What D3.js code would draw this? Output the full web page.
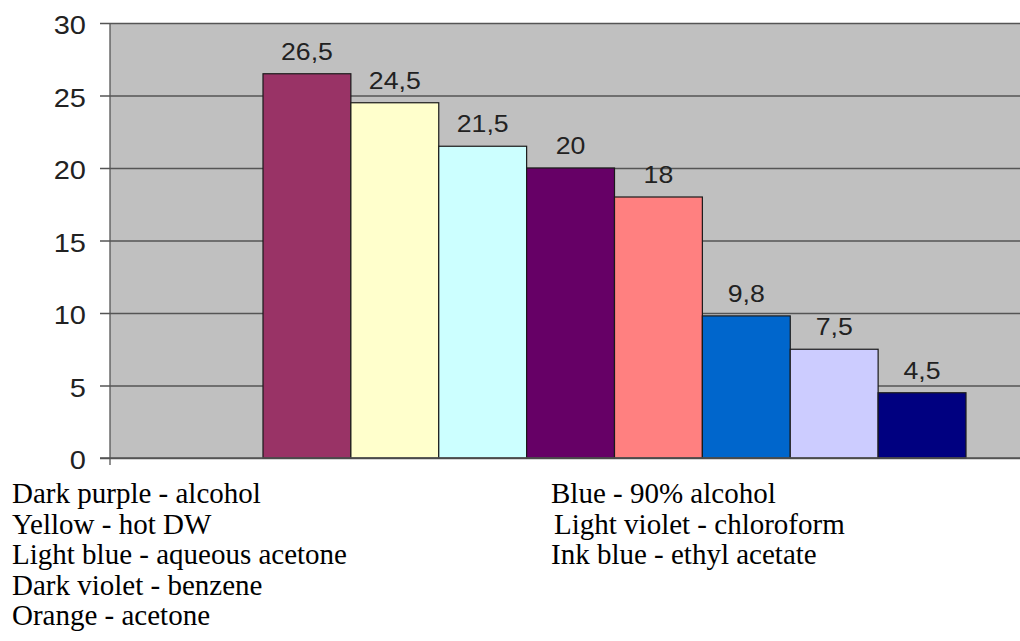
<!DOCTYPE html>
<html>
<head>
<meta charset="utf-8">
<script src="https://cdn.jsdelivr.net/npm/d3@7"></script>
<style>
  html, body { margin: 0; padding: 0; background: #ffffff; }
  svg { display: block; }
  .key { font-family: "Liberation Serif", "Times New Roman", Times, "DejaVu Serif", "Noto Serif", serif; }
  .num { font-family: "Liberation Sans", Arial, sans-serif; }
</style>
</head>
<body>
<svg id="chart" width="1020" height="641"></svg>
<script>
// Extraction yield by solvent
const solvents = ["alcohol", "hot DW", "aqueous acetone", "benzene", "acetone", "90% alcohol", "chloroform", "ethyl acetate"];
const values = [26.5, 24.5, 21.5, 20, 18, 9.8, 7.5, 4.5];
const valueLabels = ["26,5", "24,5", "21,5", "20", "18", "9,8", "7,5", "4,5"];
const barColors = ["#993366", "#ffffcc", "#ccffff", "#660066", "#ff8080", "#0066cc", "#ccccff", "#000080"];
const yTicks = [0, 5, 10, 15, 20, 25, 30];
const legendLeft = ["Dark purple - alcohol", "Yellow - hot DW", "Light blue - aqueous acetone", "Dark violet - benzene", "Orange - acetone"];
const legendRight = ["Blue - 90% alcohol", "Light violet - chloroform", "Ink blue - ethyl acetate"];
const legendRightIndent = [0, 3, 0];

const svg = d3.select("#chart");
const plot = { left: 110, right: 1030, top: 23, bottom: 458 };
const stretch = 1.16; // numbers are set slightly wide

const y = d3.scaleLinear().domain([0, 30]).range([plot.bottom, plot.top]);
const x = d3.scaleBand().domain(solvents).range([263, 966]).padding(0);

// plot background
svg.append("rect")
  .attr("x", plot.left).attr("y", plot.top)
  .attr("width", plot.right - plot.left).attr("height", plot.bottom - plot.top)
  .attr("fill", "#c0c0c0");

// gridlines with short outside ticks
const yAxis = d3.axisLeft(y)
  .tickValues(yTicks)
  .tickSize(-(plot.right - plot.left))
  .tickFormat("");

const gy = svg.append("g")
  .attr("transform", `translate(${plot.left},0)`)
  .call(yAxis);
gy.select(".domain").remove();
gy.selectAll(".tick line")
  .attr("x1", -10)
  .attr("stroke", "#555")
  .attr("stroke-width", 1.3);

// tick labels
svg.append("g").selectAll("text")
  .data(yTicks)
  .join("text")
  .attr("class", "num")
  .attr("transform", d => `translate(86,${y(d) + 11}) scale(${stretch},1)`)
  .attr("text-anchor", "end")
  .attr("font-size", 25)
  .attr("fill", "#222")
  .text(d => d);

// left axis line
svg.append("line")
  .attr("x1", plot.left).attr("x2", plot.left)
  .attr("y1", plot.top).attr("y2", plot.bottom + 7)
  .attr("stroke", "#555").attr("stroke-width", 1.3);

// bars
svg.append("g").selectAll("rect")
  .data(values)
  .join("rect")
  .attr("x", (d, i) => x(solvents[i]))
  .attr("y", d => y(d))
  .attr("width", x.bandwidth())
  .attr("height", d => y(0) - y(d))
  .attr("fill", (d, i) => barColors[i])
  .attr("stroke", "#1a1a1a")
  .attr("stroke-width", 1.2);

// value labels
svg.append("g").selectAll("text")
  .data(values)
  .join("text")
  .attr("class", "num")
  .attr("transform", (d, i) => `translate(${x(solvents[i]) + x.bandwidth() / 2},${y(d) - 14}) scale(${stretch},1)`)
  .attr("text-anchor", "middle")
  .attr("font-size", 23)
  .attr("fill", "#222")
  .text((d, i) => valueLabels[i]);

// baseline
svg.append("line")
  .attr("x1", plot.left - 10).attr("x2", plot.right)
  .attr("y1", y(0)).attr("y2", y(0))
  .attr("stroke", "#555").attr("stroke-width", 1.3);

// colour key below the chart
svg.append("g").selectAll("text")
  .data(legendLeft)
  .join("text")
  .attr("class", "key")
  .attr("x", 12)
  .attr("y", (d, i) => 503 + i * 30.5)
  .attr("font-size", 29)
  .attr("fill", "#000")
  .text(d => d);

svg.append("g").selectAll("text")
  .data(legendRight)
  .join("text")
  .attr("class", "key")
  .attr("x", (d, i) => 551 + legendRightIndent[i])
  .attr("y", (d, i) => 503 + i * 30.5)
  .attr("font-size", 29)
  .attr("fill", "#000")
  .text(d => d);
</script>
</body>
</html>
